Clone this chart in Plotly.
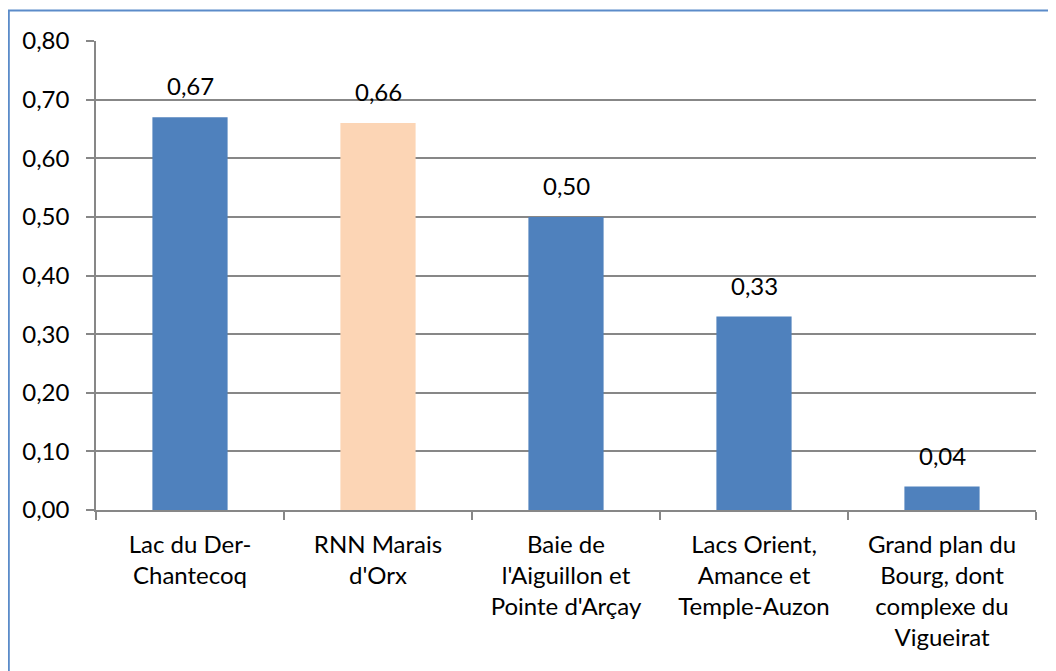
import plotly.graph_objects as go

categories = [
    "Lac du Der-<br>Chantecoq",
    "RNN Marais<br>d'Orx",
    "Baie de<br>l'Aiguillon et<br>Pointe d'Arçay",
    "Lacs Orient,<br>Amance et<br>Temple-Auzon",
    "Grand plan du<br>Bourg, dont<br>complexe du<br>Vigueirat",
]
values = [0.67, 0.66, 0.50, 0.33, 0.04]
bar_colors = ["#4F81BD", "#FCD5B5", "#4F81BD", "#4F81BD", "#4F81BD"]
y_ticks = [0, 0.1, 0.2, 0.3, 0.4, 0.5, 0.6, 0.7, 0.8]

FONT = "Lato"
FS = 24
W, H = 1056, 671
OFF = 8  # page offset of the figure
# target plot area on screen: x 96..1036, y 41..510
L = 96 - OFF
T = 41 - OFF
R = W - (1036 - OFF)
B = H - (510 - OFF)

fig = go.Figure()
fig.add_trace(go.Bar(
    x=categories, y=values,
    marker=dict(color=bar_colors, line=dict(width=0)),
    hoverinfo="skip",
))

for c, v in zip(categories, values):
    fig.add_annotation(
        x=c, y=v, xref="x", yref="y",
        text=f"{v:.2f}".replace(".", ","),
        showarrow=False, yanchor="bottom", yshift=15,
        font=dict(family=FONT, size=FS, color="#000000"),
    )

pw = W - L - R
ph = H - T - B
# outer frame (extends past right/bottom of the view)
fx0, fy1 = 0.8, 10.5 - OFF
fig.add_shape(
    type="rect", xref="paper", yref="paper",
    x0=(fx0 - L) / pw, x1=(W + 30 - L) / pw,
    y0=(H - B - (H + 30)) / ph, y1=(H - B - fy1) / ph,
    line=dict(color="#5B8BC9", width=2), fillcolor="rgba(0,0,0,0)",
    layer="below",
)

fig.update_layout(
    width=W, height=H,
    margin=dict(l=L, r=R, t=T, b=B, autoexpand=False),
    paper_bgcolor="white", plot_bgcolor="white",
    bargap=0.6,
    showlegend=False,
    separators=",.",
    font=dict(family=FONT, size=FS, color="#000000"),
    xaxis=dict(
        showgrid=False, showline=True, linecolor="#878787", linewidth=1.5,
        ticks="outside", tickson="boundaries", ticklen=8, tickcolor="#878787",
        tickwidth=1.5, ticklabelstandoff=12, automargin=False,
        tickfont=dict(family=FONT, size=FS, color="#000000"),
    ),
    yaxis=dict(
        range=[0, 0.8], tickvals=y_ticks, tickformat=".2f",
        showgrid=True, gridcolor="#878787", gridwidth=1.5,
        showline=True, linecolor="#878787", linewidth=1.5,
        ticks="outside", ticklen=8, tickcolor="#878787", tickwidth=1.5,
        ticklabelstandoff=12, zeroline=False, automargin=False,
        tickfont=dict(family=FONT, size=FS, color="#000000"),
    ),
)

fig.write_html("out.html")
